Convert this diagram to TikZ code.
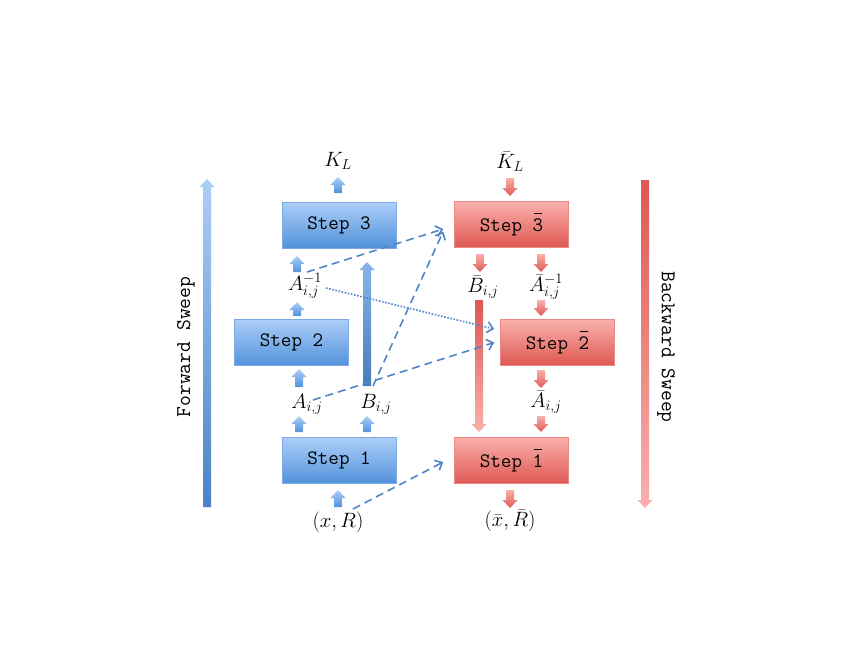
\documentclass[tikz,border=0pt]{standalone}
\usetikzlibrary{arrows.meta,calc}
\definecolor{bTop}{RGB}{172,206,248}
\definecolor{bBot}{RGB}{82,146,218}
\definecolor{bEdge}{RGB}{125,170,228}
\definecolor{rTop}{RGB}{250,176,172}
\definecolor{rBot}{RGB}{222,88,82}
\definecolor{rEdge}{RGB}{232,138,132}
\definecolor{dashc}{RGB}{82,132,200}
\newcommand\obar[1]{\makebox[0pt][l]{\hspace{1.6pt}\rule[17pt]{7.6pt}{1.2pt}}#1}
\newcommand\blk[4]{%
  \pgfmathsetmacro\hd{ifthenelse(#4>#3,-8,8)}%
  \path[#1] ({#2-4},#3) -- ({#2-4},{#4+\hd}) -- ({#2-7.5},{#4+\hd}) -- (#2,#4)
    -- ({#2+7.5},{#4+\hd}) -- ({#2+4},{#4+\hd}) -- ({#2+4},#3) -- cycle;}
\tikzset{
  stepbox/.style={draw, line width=0.6pt, minimum width=114pt, minimum height=46pt,
    font=\fontsize{20.5}{22}\ttfamily, inner sep=0pt},
  bluebox/.style={stepbox, draw=bEdge, top color=bTop, bottom color=bBot},
  redbox/.style={stepbox, draw=rEdge, top color=rTop, bottom color=rBot},
  lbl/.style={font=\fontsize{20}{24}\selectfont, inner sep=0pt},
  bluefat/.style={top color=bTop, bottom color=bBot},
  redfat/.style={top color=rTop, bottom color=rBot},
  bluebar/.style={top color=bTop!60!bBot, bottom color=bBot!85!black},
  redbar/.style={top color=rBot, bottom color=rTop},
  fwd/.style={top color=bTop, bottom color=bBot!90!black},
  bwd/.style={top color=rBot, bottom color=rTop},
  sweep/.style={font=\fontsize{21}{24}\ttfamily},
  conn/.style={dashc, line width=1.6pt, dash pattern=on 8pt off 5pt,
    -{Straight Barb[length=6pt,width=11pt]}},
  dotconn/.style={dashc, line width=1.6pt, dash pattern=on 1.6pt off 1.6pt,
    -{Straight Barb[length=6pt,width=11pt]}}
}
\begin{document}
\begin{tikzpicture}[x=1pt,y=-1pt]
\path[fill=white] (0,0) rectangle (846,654);
\useasboundingbox (0,0) rectangle (846,654);
% step boxes
\node[bluebox] (s3) at (339,225) {Step 3};
\node[bluebox] (s2) at (291.5,342.5) {Step 2};
\node[bluebox] (s1) at (339,460.5) {Step 1};
\node[redbox] (r3) at (511.5,224.5) {Step \obar{3}};
\node[redbox] (r2) at (557.5,342.5) {Step \obar{2}};
\node[redbox] (r1) at (511.5,460.5) {Step \obar{1}};
% labels
\node[lbl] (KL) at (338,161) {$K_L$};
\node[lbl] (KLb) at (510,162) {$\bar K_L$};
\node[lbl] (Ainv) at (305,286) {$A^{-1}_{i,j}$};
\node[lbl] (A) at (307,404) {$A_{i,j}$};
\node[lbl] (B) at (376,404) {$B_{i,j}$};
\node[lbl] (xR) at (338,522) {$(x,R)$};
\node[lbl] (Bb) at (483,287) {$\bar B_{i,j}$};
\node[lbl] (Abinv) at (546,287) {$\bar A^{-1}_{i,j}$};
\node[lbl] (Ab) at (546,402) {$\bar A_{i,j}$};
\node[lbl] (xRb) at (510,521) {$(\bar x,\bar R)$};
% sweeps
\blk{fwd}{207}{507}{179}
\blk{bwd}{645}{180}{508}
\node[sweep, rotate=90] (fs) at (186,347) {Forward Sweep};
\node[sweep, rotate=-90] (bs) at (666,347) {Backward Sweep};
% blue block arrows
\blk{bluefat}{338}{193}{177}
\blk{bluefat}{297}{272}{256}
\blk{bluefat}{297}{316}{302}
\blk{bluefat}{299}{387}{369}
\blk{bluefat}{299}{432}{416}
\blk{bluefat}{367}{432}{416}
\blk{bluefat}{338}{507}{490}
\blk{bluebar}{367}{386}{262}
% red block arrows
\blk{redfat}{510}{178}{196}
\blk{redfat}{480}{254}{272}
\blk{redfat}{541}{254}{272}
\blk{redfat}{541}{300}{316}
\blk{redbar}{479}{300}{432}
\blk{redfat}{541}{370}{388}
\blk{redfat}{541}{416}{432}
\blk{redfat}{510}{490}{508}
% cross connectors
\draw[conn] ($(Ainv)+(2,-14)$) -- ($(r3.west)+(-11,4.5)$);
\draw[conn] ($(B)+(-3,-18)$) -- ($(r3.west)+(-11,7)$);
\draw[conn] ($(A)+(6,-4)$) -- ($(r2.west)+(-6,0)$);
\draw[conn] ($(xR)+(15,-13)$) -- ($(r1.west)+(-11,1.5)$);
\draw[dotconn] ($(Ainv)+(21,2)$) -- ($(r2.west)+(-6,-13.5)$);
\end{tikzpicture}
\end{document}
